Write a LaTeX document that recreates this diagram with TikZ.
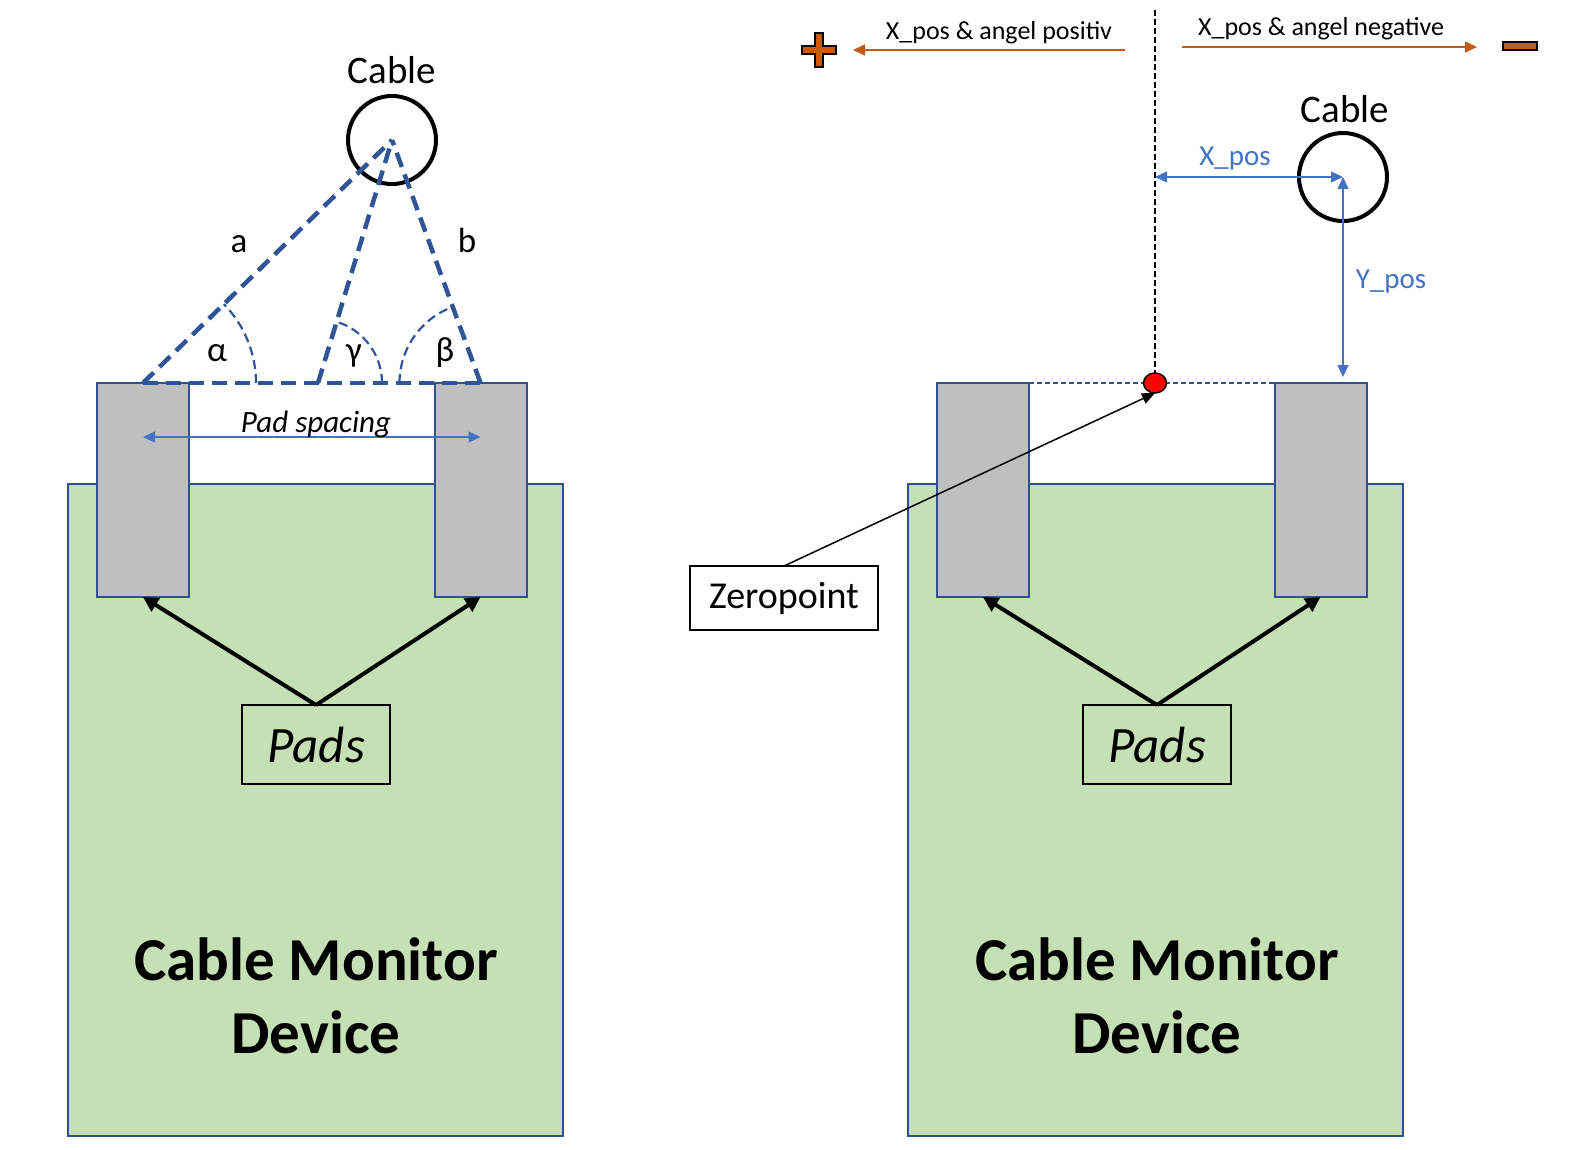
\documentclass[tikz,border=0pt]{standalone}
\usepackage{fontspec}
\setmainfont{Carlito}
\usetikzlibrary{arrows.meta,shapes.geometric}
\definecolor{grn}{HTML}{C5E0B4}
\definecolor{bord}{HTML}{2F528F}
\definecolor{padg}{HTML}{BFBFBF}
\definecolor{blu}{HTML}{4472C4}
\definecolor{tri}{HTML}{2F5597}
\definecolor{org}{HTML}{C55A11}
\begin{document}
\begin{tikzpicture}[x=1pt,y=-1pt,
  device/.style={draw=bord,line width=2pt,fill=grn,minimum width=495pt,minimum height=652pt,inner sep=0pt,outer sep=0pt},
  padbox/.style={draw=bord,line width=2pt,fill=padg,minimum width=92pt,minimum height=214pt,inner sep=0pt,outer sep=0pt},
  padslabel/.style={draw=black,line width=1.5pt,minimum width=148pt,minimum height=79pt,inner sep=0pt,outer sep=0pt,font={\fontsize{51}{61}\selectfont\itshape}},
  bigtext/.style={anchor=base,inner sep=0pt,font={\fontsize{61}{73}\selectfont\bfseries}},
  cablecirc/.style={circle,draw=black,line width=4pt,minimum size=88pt,inner sep=0pt,outer sep=0pt},
  cablelabel/.style={anchor=base,inner sep=0pt,font={\fontsize{39}{46}\selectfont}},
  symlabel/.style={anchor=base,inner sep=0pt,font={\fontsize{35}{42}\selectfont}},
  padarrow/.style={draw=black,line width=4pt,-{Triangle[length=15pt,width=15pt]}},
  tridash/.style={draw=tri,line width=4.5pt,dash pattern=on 15pt off 8pt},
  arcdash/.style={draw=tri,line width=2.2pt,dash pattern=on 9pt off 5pt},
  bluarrow/.style={draw=blu,line width=1.3pt,{Triangle[length=12pt,width=11pt]}-{Triangle[length=12pt,width=11pt]}},
  orgarrow/.style={draw=org,line width=1.5pt,-{Triangle[length=12pt,width=11pt]}},
  smalltext/.style={anchor=base,inner sep=0pt,font={\fontsize{26}{31}\selectfont}},
  blutext/.style={anchor=base,inner sep=0pt,text=blu,font={\fontsize{29}{35}\selectfont}},
  zdot/.style={ellipse,draw=black,line width=1.5pt,fill=red,minimum width=23pt,minimum height=20pt,inner sep=0pt,outer sep=0pt},
  zbox/.style={draw=black,line width=1.5pt,fill=white,minimum width=188pt,minimum height=64pt,inner sep=0pt,outer sep=0pt,font={\fontsize{38}{45}\selectfont}},
  signshape/.style={fill=org,draw=black,line width=1.2pt}
]
\useasboundingbox (0,0) rectangle (1589,1150);

% ================= LEFT =================
\node[device] (devL) at (315.5,810) {};
\node[padbox] (lpadL) at (143,490) {};
\node[padbox] (rpadL) at (480.5,490) {};
\node[padslabel] (padsL) at (316,744.5) {Pads};
\draw[padarrow] (padsL.north) -- (lpadL.south);
\draw[padarrow] (padsL.north) -- (rpadL.south);
\node[bigtext] (cmL) at (316,980) {Cable Monitor};
\node[bigtext] (dvL) at (316,1053) {Device};

\node[cablecirc] (cableL) at (392,140) {};
\node[cablelabel] (cableLtxt) at (392,84) {Cable};

\coordinate (tA) at (lpadL.north);
\coordinate (tB) at (rpadL.north);
\coordinate (tM) at (318,383);
\draw[tridash] (tA) -- (tB);
\draw[tridash] (tA) -- (cableL.center);
\draw[tridash] (tM) -- (cableL.center);
\draw[tridash] (tB) -- (cableL.center);
\draw[arcdash] (tA) ++(113,0) arc[start angle=0,end angle=-44.3,radius=113];
\draw[arcdash] (tM) ++(64,0) arc[start angle=0,end angle=-73.1,radius=64];
\draw[arcdash] (tB) ++(-81,0) arc[start angle=-180,end angle=-110.1,radius=81];

\node[symlabel] (la) at (239,253) {a};
\node[symlabel] (lb) at (467,253) {b};
\node[symlabel] (lal) at (217,361) {α};
\node[symlabel] (lga) at (354,361) {γ};
\node[symlabel] (lbe) at (445,361) {β};

\coordinate (psy) at (0,437);
\draw[bluarrow] (lpadL.center |- psy) -- (rpadL.center |- psy);
\node[anchor=base,inner sep=0pt,font={\fontsize{31}{37}\selectfont\itshape}] (psl) at (316,432) {Pad spacing};

% ================= RIGHT =================
\node[device] (devR) at (1155.5,810) {};
\node[padbox] (lpadR) at (983,490) {};
\node[padbox] (rpadR) at (1320.5,490) {};
\node[padslabel] (padsR) at (1157,744.5) {Pads};
\draw[padarrow] (padsR.north) -- (lpadR.south);
\draw[padarrow] (padsR.north) -- (rpadR.south);
\node[bigtext] (cmR) at (1157,980) {Cable Monitor};
\node[bigtext] (dvR) at (1157,1053) {Device};

\coordinate (vtop) at (1155,10);
\coordinate (zc) at (1155,383);
\draw[draw=black,line width=1.5pt,dash pattern=on 6pt off 3pt] (vtop) -- (zc);
\draw[draw=bord,line width=1.5pt,dash pattern=on 5pt off 3pt] (lpadR.north east) -- (rpadR.north west);
\node[zdot] (zero) at (zc) {};

\node[zbox] (zp) at (784,598) {Zeropoint};
\draw[draw=black,line width=1.5pt,-{Triangle[length=13pt,width=11pt]}] (zp.north) -- (zero.south);

\node[cablecirc] (cableR) at (1343,177) {};
\node[cablelabel] (cableRtxt) at (1345,123) {Cable};
\draw[bluarrow] (vtop |- cableR.center) -- (cableR.center);
\node[blutext] (xposl) at (1235,166) {X\_pos};
\coordinate (ybot) at (1343,377);
\draw[bluarrow] (cableR.center) -- (ybot);
\node[blutext] (yposl) at (1391,288) {Y\_pos};

% top direction arrows
\coordinate (oL1) at (1125,50);
\coordinate (oL2) at (853,50);
\draw[orgarrow] (oL1) -- (oL2);
\node[smalltext] (tpos) at (999,40) {X\_pos \& angel positiv};
\coordinate (oR1) at (1182,47);
\coordinate (oR2) at (1477,47);
\draw[orgarrow] (oR1) -- (oR2);
\node[smalltext] (tneg) at (1321,36) {X\_pos \& angel negative};

\draw[signshape] (815,33) -- (823,33) -- (823,46) -- (836,46) -- (836,54) -- (823,54) -- (823,67) -- (815,67) -- (815,54) -- (802,54) -- (802,46) -- (815,46) -- cycle;
\draw[signshape] (1503,42) rectangle (1537,50);
\end{tikzpicture}
\end{document}
